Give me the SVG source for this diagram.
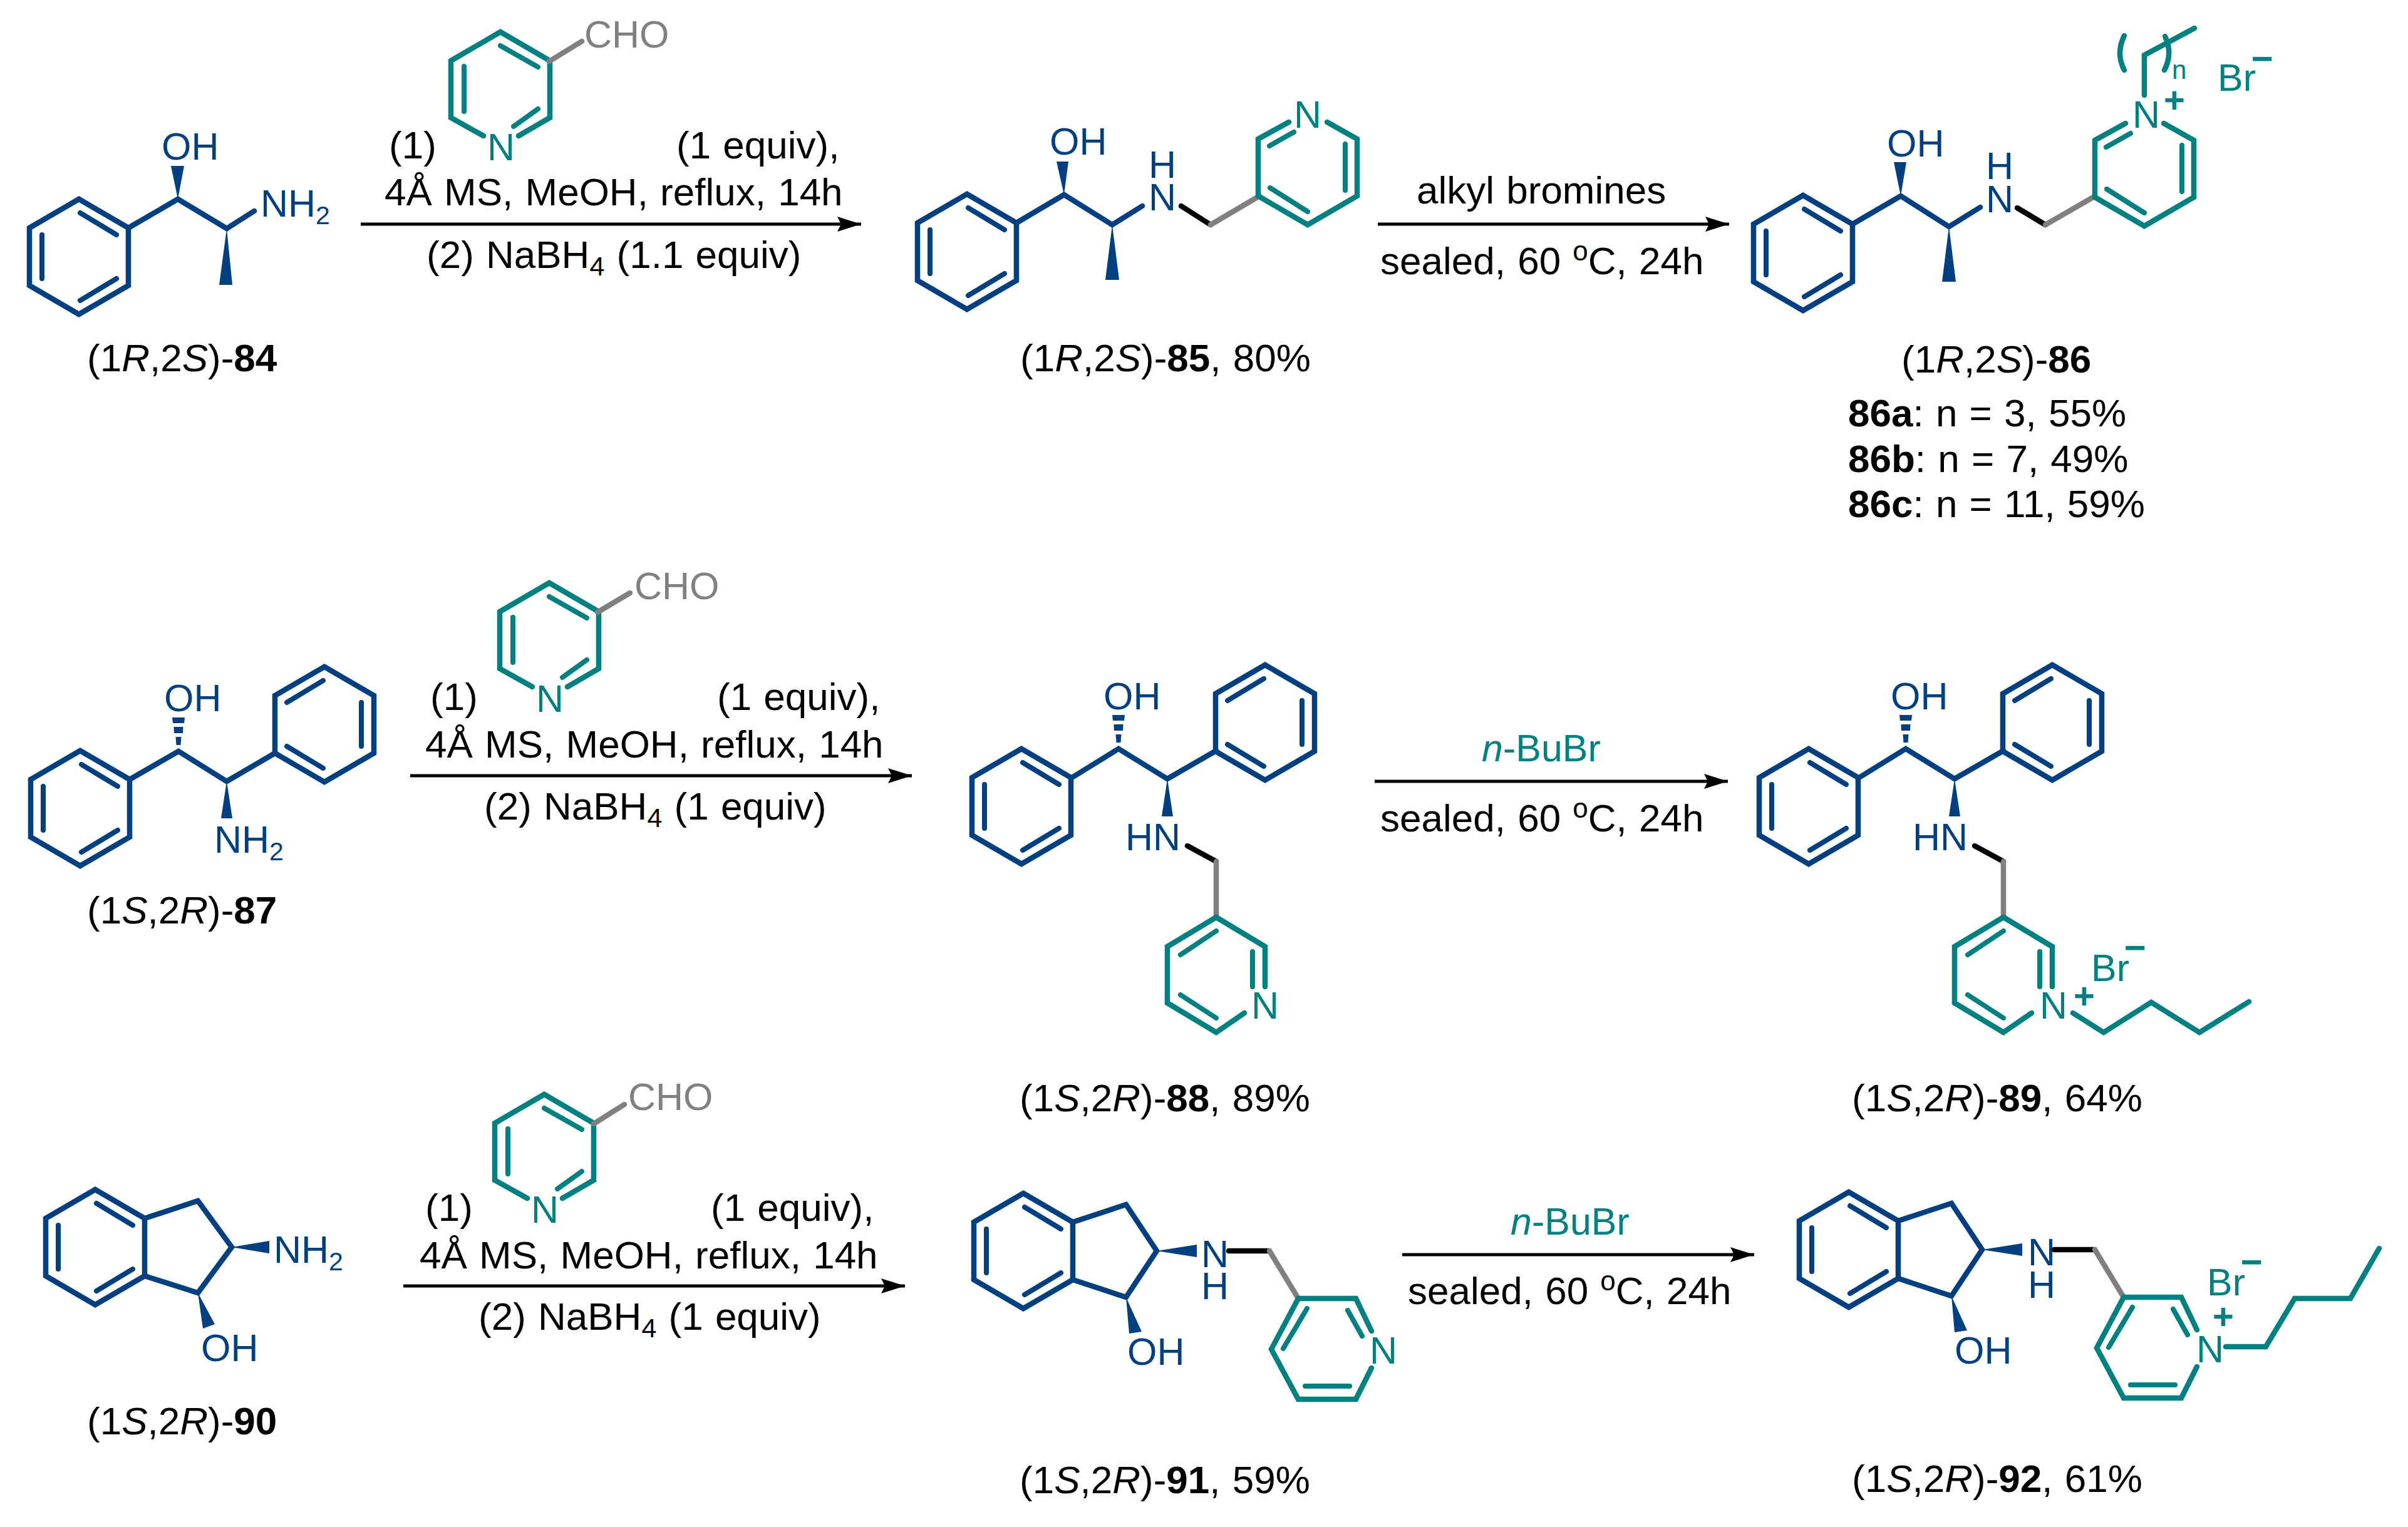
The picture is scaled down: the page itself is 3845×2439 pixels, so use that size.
<svg xmlns="http://www.w3.org/2000/svg" xmlns:xlink="http://www.w3.org/1999/xlink" width="3845" height="2439" viewBox="0 0 3845 2439">
<style>
text{font-family:"Liberation Sans",Arial,sans-serif;font-size:62px;fill:#000;word-spacing:2px}
.s{font-size:43px}
.sup{font-size:44px}
.bt text,text.bt{fill:#003f80;font-size:61px}
.tt text,text.tt{fill:#008080;font-size:61px}
text.gt{fill:#808080;font-size:61px}
.bt text.cap{fill:#000;font-size:62px}
.bt .s{font-size:41px}
.bold{font-weight:bold}
.it{font-style:italic}
.tt text.ch,.ch{font-weight:bold;text-anchor:middle}
.tt text.pl{font-size:58px}
.tt text.ms{font-size:60px}
.tt text.nn{font-size:42px}
.bo{fill:none;stroke-width:8.5;stroke-linejoin:miter;stroke-linecap:round}
.in{stroke-width:8}
.b{stroke:#003f80}.t{stroke:#008080}.g{stroke:#808080}.k{stroke:#000}
.wb{fill:#003f80;stroke:none}
.arr{stroke:#000;stroke-width:5;fill:none;marker-end:url(#ah)}
</style>
<defs>
<marker id="ah" markerUnits="userSpaceOnUse" markerWidth="44" markerHeight="30" refX="38" refY="15" orient="auto" overflow="visible">
<path d="M0,3 L38,15 L0,27 L6,15 Z" fill="#000"/>
</marker>
<g id="phA"><path d="M0,-92 L79,-46 V46 L0,92 L-79,46 V-46 Z"/><path class="in" d="M2,-70 L60,-35 M-59,-35 V35 M2,70 L60,35"/></g>
<g id="phB"><path d="M0,-92 L79,-46 V46 L0,92 L-79,46 V-46 Z"/><path class="in" d="M-2,-70 L-60,-35 M59,-35 V35 M-2,70 L-60,35"/></g>
<g id="pyR"><path d="M-27,74 L-79,45 V-46 L0,-92 L79,-46 V45 L29,74"/><path class="in" d="M0,-70 L60,-36 M-58,-37 V35 M21,59 L60,31"/></g>
<g id="pyT"><path d="M-30,-73 L-79,-46 V45 L0,91 L79,45 V-46 L31,-73"/><path class="in" d="M-61,-35 L-22,-57 M60,-38 V36 M-60,32 L0,70"/></g>
<g id="pyB"><path d="M45,61 L0,92 L-78,45 V-45 L0,-92 L78,-45 V19"/><path class="in" d="M-57,-32 L0,-70 M58,-37 V19 M-57,32 L0,69"/></g>
<g id="pyH"><path d="M71,-29 L46,-81 H-46 L-89,0 L-46,80 H46 L71,30"/><path class="in" d="M-32,-65 L-70,-1 M33,-62 L56,-21 M-35,59 H36"/></g>
<g id="hash"><path class="wb" d="M-10,0 H10 L9,9 H-9 Z M-7.5,15 H7.5 L7,25 H-7 Z M-4.5,31 H4.5 L3.5,44 H-3.5 Z"/></g>
</defs>
<rect width="3845" height="2439" fill="#fff"/>

<g id="connectors">
<path class="arr" d="M576,358 H1375"/>
<path class="arr" d="M2200,358 H2761"/>
<path class="arr" d="M655,1239 H1456"/>
<path class="arr" d="M2195,1248 H2759"/>
<path class="arr" d="M644,2054 H1445"/>
<path class="arr" d="M2239,2004 H2801"/>
</g>

<g id="cond1">
<g class="bo"><use xlink:href="#pyR" href="#pyR" x="799" y="143" class="t"/><path class="g" d="M877,98 L929,66"/></g>
<text x="933" y="76" class="gt">CHO</text><text x="778" y="256" class="tt">N</text>
<text x="621" y="253">(1)</text><text x="1080" y="253">(1 equiv),</text>
<text x="614" y="328">4Å MS, MeOH, reflux, 14h</text>
<text x="681" y="428">(2) NaBH<tspan class="s" dy="12">4</tspan><tspan dy="-12"> (1.1 equiv)</tspan></text>
</g>
<g id="cond2">
<text x="2262" y="325">alkyl bromines</text>
<text x="2204" y="438">sealed, 60 <tspan class="sup" dy="-22">o</tspan><tspan dy="22">C, 24h</tspan></text>
</g>
<g id="cond3">
<g class="bo"><use xlink:href="#pyR" href="#pyR" x="877" y="1023" class="t"/><path class="g" d="M954,978 L1006,947"/></g>
<text x="1013" y="957" class="gt">CHO</text><text x="856" y="1137" class="tt">N</text>
<text x="687" y="1134">(1)</text><text x="1145" y="1134">(1 equiv),</text>
<text x="679" y="1210">4Å MS, MeOH, reflux, 14h</text>
<text x="773" y="1309">(2) NaBH<tspan class="s" dy="12">4</tspan><tspan dy="-12"> (1 equiv)</tspan></text>
</g>
<g id="cond4">
<text x="2366" y="1216" class="tt"><tspan class="it">n</tspan>-BuBr</text>
<text x="2204" y="1328">sealed, 60 <tspan class="sup" dy="-22">o</tspan><tspan dy="22">C, 24h</tspan></text>
</g>
<g id="cond5">
<g class="bo"><use xlink:href="#pyR" href="#pyR" x="869" y="1840" class="t"/><path class="g" d="M948,1795 L997,1764"/></g>
<text x="1003" y="1773" class="gt">CHO</text><text x="848" y="1953" class="tt">N</text>
<text x="679" y="1950">(1)</text><text x="1135" y="1950">(1 equiv),</text>
<text x="670" y="2026">4Å MS, MeOH, reflux, 14h</text>
<text x="764" y="2124">(2) NaBH<tspan class="s" dy="12">4</tspan><tspan dy="-12"> (1 equiv)</tspan></text>
</g>
<g id="cond6">
<text x="2412" y="1972" class="tt"><tspan class="it">n</tspan>-BuBr</text>
<text x="2248" y="2083">sealed, 60 <tspan class="sup" dy="-22">o</tspan><tspan dy="22">C, 24h</tspan></text>
</g>

<g id="mol84" class="bt">
<g class="bo b"><use xlink:href="#phA" href="#phA" x="126" y="410"/><path d="M205,364 L284,318 L362,365 L406,337"/></g>
<path class="wb" d="M284,318 L273,265 H294 Z M362,365 L350,455 H371 Z"/>
<text x="258" y="255">OH</text>
<text x="416" y="346">NH<tspan class="s" dy="12">2</tspan></text>
<text x="139" y="593" class="cap">(1<tspan class="it">R</tspan>,2<tspan class="it">S</tspan>)-<tspan class="bold">84</tspan></text>
</g>

<g id="mol85" class="bt">
<g class="bo b"><use xlink:href="#phA" href="#phA" x="1544" y="402"/><path d="M1623,356 L1699,311 L1776,359 L1824,329"/></g>
<path class="wb" d="M1699,311 L1687,258 H1706 Z M1776,359 L1765,447 H1787 Z"/>
<text x="1676" y="247">OH</text>
<text x="1834" y="284">H</text><text x="1834" y="336">N</text>
<path class="bo k" d="M1886,329 L1933,359"/><path class="bo g" d="M1933,359 L2011,313"/>
<use xlink:href="#pyT" href="#pyT" x="2088" y="268" class="bo t"/>
<text x="2066" y="204" style="fill:#008080">N</text>
<text x="1629" y="593" class="cap">(1<tspan class="it">R</tspan>,2<tspan class="it">S</tspan>)-<tspan class="bold">85</tspan>, 80%</text>
</g>

<g id="mol86" class="bt">
<g class="bo b"><use xlink:href="#phA" href="#phA" x="2879" y="404"/><path d="M2958,358 L3035,313 L3112,362 L3162,331"/></g>
<path class="wb" d="M3035,313 L3024,259 H3044 Z M3112,362 L3101,450 H3123 Z"/>
<text x="3013" y="250">OH</text>
<text x="3171" y="286">H</text><text x="3171" y="339">N</text>
<path class="bo k" d="M3221,332 L3266,359"/><path class="bo g" d="M3266,359 L3344,314"/>
<use xlink:href="#pyT" href="#pyT" x="3424" y="270" class="bo t"/>
<path class="bo t" d="M3424,152 V88 L3504,45 M3392,57 Q3378,85 3392,112 M3457,58 Q3470,85 3456,112"/>
<g class="tt">
<text x="3405" y="204">N</text><text x="3468" y="126" class="nn">n</text>
<text x="3472" y="180" class="ch pl">+</text>
<text x="3541" y="145">Br</text><text x="3612" y="114" class="ch ms">−</text>
</g>
<text x="3036" y="595" class="cap">(1<tspan class="it">R</tspan>,2<tspan class="it">S</tspan>)-<tspan class="bold">86</tspan></text>
<text x="2951" y="681" class="cap"><tspan class="bold">86a</tspan>: n = 3, 55%</text>
<text x="2951" y="754" class="cap"><tspan class="bold">86b</tspan>: n = 7, 49%</text>
<text x="2951" y="826" class="cap"><tspan class="bold">86c</tspan>: n = 11, 59%</text>
</g>

<g id="mol87" class="bt">
<g class="bo b"><use xlink:href="#phA" href="#phA" x="128" y="1291"/><use xlink:href="#phB" href="#phB" x="518" y="1157"/><path d="M207,1245 L285,1200 L362,1248 L439,1203"/></g>
<use xlink:href="#hash" href="#hash" x="285" y="1146"/>
<path class="wb" d="M362,1248 L353,1307 H371 Z"/>
<text x="262" y="1136">OH</text>
<text x="342" y="1362">NH<tspan class="s" dy="12">2</tspan></text>
<text x="139" y="1475" class="cap">(1<tspan class="it">S</tspan>,2<tspan class="it">R</tspan>)-<tspan class="bold">87</tspan></text>
</g>

<g id="mol88" class="bt">
<g class="bo b"><use xlink:href="#phA" href="#phA" x="1631" y="1288"/><use xlink:href="#phB" href="#phB" x="2020" y="1154"/><path d="M1710,1243 L1786,1196 L1864,1244 L1942,1199"/></g>
<use xlink:href="#hash" href="#hash" x="1786" y="1142"/>
<path class="wb" d="M1864,1244 L1855,1304 H1873 Z"/>
<text x="1762" y="1133">OH</text><text x="1797" y="1358">HN</text>
<path class="bo k" d="M1896,1351 L1942,1376"/><path class="bo g" d="M1942,1376 V1465"/>
<use xlink:href="#pyB" href="#pyB" x="1942" y="1557" class="bo t"/>
<text x="1998" y="1627" style="fill:#008080">N</text>
<text x="1628" y="1775" class="cap">(1<tspan class="it">S</tspan>,2<tspan class="it">R</tspan>)-<tspan class="bold">88</tspan>, 89%</text>
</g>

<g id="mol89" class="bt">
<g class="bo b"><use xlink:href="#phA" href="#phA" x="2888" y="1288"/><use xlink:href="#phB" href="#phB" x="3277" y="1154"/><path d="M2967,1243 L3043,1196 L3121,1244 L3199,1199"/></g>
<use xlink:href="#hash" href="#hash" x="3043" y="1142"/>
<path class="wb" d="M3121,1244 L3112,1304 H3130 Z"/>
<text x="3019" y="1133">OH</text><text x="3054" y="1358">HN</text>
<path class="bo k" d="M3153,1351 L3199,1376"/><path class="bo g" d="M3199,1376 V1465"/>
<use xlink:href="#pyB" href="#pyB" x="3199" y="1557" class="bo t"/>
<path class="bo t" d="M3310,1618 L3359,1649 L3435,1601 L3512,1649 L3591,1600"/>
<g class="tt"><text x="3257" y="1627">N</text><text x="3328" y="1611" class="ch pl">+</text>
<text x="3339" y="1567">Br</text><text x="3409" y="1534" class="ch ms">−</text></g>
<text x="2957" y="1775" class="cap">(1<tspan class="it">S</tspan>,2<tspan class="it">R</tspan>)-<tspan class="bold">89</tspan>, 64%</text>
</g>

<g id="mol90" class="bt">
<g class="bo b"><use xlink:href="#phA" href="#phA" x="152" y="1992"/><path d="M231,1946 L316,1918 L370,1992 L316,2065 L231,2038"/></g>
<path class="wb" d="M370,1992 L430,1982 V2002 Z M316,2065 L324,2122 L343,2115 Z"/>
<text x="437" y="2017">NH<tspan class="s" dy="12">2</tspan></text>
<text x="321" y="2174">OH</text>
<text x="139" y="2291" class="cap">(1<tspan class="it">S</tspan>,2<tspan class="it">R</tspan>)-<tspan class="bold">90</tspan></text>
</g>

<g id="mol91" class="bt">
<g class="bo b"><use xlink:href="#phA" href="#phA" x="1634" y="1998"/><path d="M1713,1952 L1798,1924 L1847,1998 L1798,2072 L1713,2044"/></g>
<path class="wb" d="M1847,1998 L1911,1988 V2008 Z M1798,2072 L1803,2130 L1823,2127 Z"/>
<text x="1918" y="2024">N</text><text x="1918" y="2075">H</text>
<text x="1800" y="2180">OH</text>
<path class="bo k" d="M1962,1998 H2027"/><path class="bo g" d="M2027,1998 L2073,2074"/>
<use xlink:href="#pyH" href="#pyH" x="2119" y="2155" class="bo t"/>
<text x="2187" y="2178" style="fill:#008080">N</text>
<text x="1628" y="2385" class="cap">(1<tspan class="it">S</tspan>,2<tspan class="it">R</tspan>)-<tspan class="bold">91</tspan>, 59%</text>
</g>

<g id="mol92" class="bt">
<g class="bo b"><use xlink:href="#phA" href="#phA" x="2952" y="1996"/><path d="M3031,1950 L3116,1922 L3165,1996 L3116,2070 L3031,2042"/></g>
<path class="wb" d="M3165,1996 L3229,1986 V2006 Z M3116,2070 L3121,2128 L3141,2125 Z"/>
<text x="3238" y="2021">N</text><text x="3238" y="2073">H</text>
<text x="3121" y="2178">OH</text>
<path class="bo k" d="M3280,1996 H3345"/><path class="bo g" d="M3345,1996 L3391,2072"/>
<use xlink:href="#pyH" href="#pyH" x="3437" y="2153" class="bo t"/>
<path class="bo t" d="M3554,2151 H3618 L3664,2074 H3753 L3799,1994"/>
<g class="tt"><text x="3507" y="2176">N</text><text x="3550" y="2123" class="ch pl">+</text>
<text x="3524" y="2069">Br</text><text x="3595" y="2036" class="ch ms">−</text></g>
<text x="2957" y="2383" class="cap">(1<tspan class="it">S</tspan>,2<tspan class="it">R</tspan>)-<tspan class="bold">92</tspan>, 61%</text>
</g>
</svg>
